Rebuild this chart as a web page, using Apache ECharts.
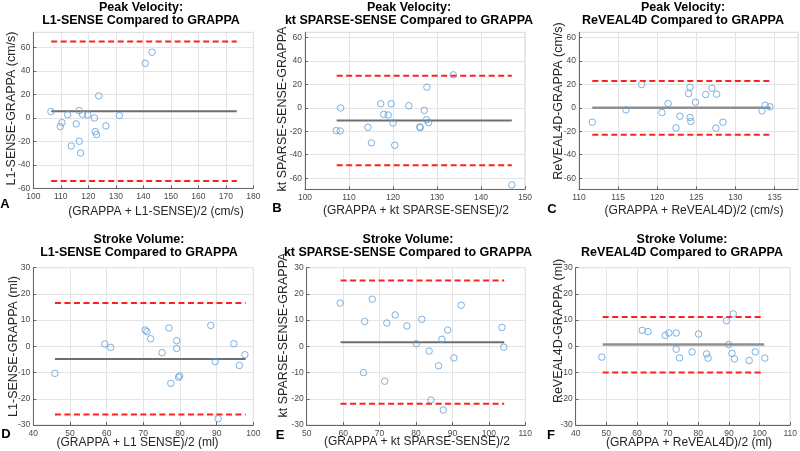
<!DOCTYPE html>
<html>
<head>
<meta charset="utf-8">
<script src="https://cdn.jsdelivr.net/npm/echarts@6/dist/echarts.min.js"></script>
<style>html,body{margin:0;padding:0;background:#fff}#c{width:800px;height:451px}</style>
</head>
<body>
<div id="c"></div>
<script>
// ---------- DATA ----------
// A: Peak velocity, L1-SENSE vs GRAPPA
const pvL1X = [106.4, 140.7, 143.2, 123.8, 116.7, 117.9, 119.8, 112.5, 122.2, 131.3, 110.4, 109.8, 115.6, 126.4, 122.5, 123.0, 116.7, 113.8, 117.2];
const pvL1Y = [5.4, 46.6, 56.0, 18.8, 6.3, 3.1, 2.6, 2.8, 0.0, 2.0, -4.0, -7.4, -5.1, -6.8, -11.7, -14.2, -19.9, -23.9, -29.9];
// B: Peak velocity, kt SPARSE-SENSE vs GRAPPA
const pvKtX = [133.7, 127.7, 108.1, 117.2, 119.6, 123.6, 127.1, 117.9, 118.9, 120.0, 127.6, 128.1, 114.3, 126.1, 126.2, 107.1, 108.0, 115.1, 120.4, 147.0];
const pvKtY = [28.2, 17.7, -0.1, 3.5, 3.5, 1.8, -2.1, -5.5, -6.1, -12.9, -10.1, -12.6, -16.6, -16.3, -16.9, -19.4, -19.7, -29.9, -31.9, -65.7];
// C: Peak velocity, ReVEAL4D vs GRAPPA
const pvRvX = [111.7, 116.0, 118.0, 121.4, 120.6, 122.9, 122.4, 124.0, 124.2, 124.2, 124.3, 124.9, 126.2, 127.0, 127.6, 127.5, 128.4, 133.4, 133.8, 134.4];
const pvRvY = [-12.2, -1.7, 19.9, 3.7, -4.0, -7.1, -17.1, 12.2, 17.6, -8.2, -11.6, 4.8, 11.4, 16.8, 11.7, -17.3, -12.2, -2.6, 2.3, 0.9];
// D: Stroke volume, L1-SENSE vs GRAPPA
const svL1X = [45.9, 59.5, 61.1, 70.5, 71.0, 72.0, 75.1, 77.0, 77.5, 79.1, 79.1, 79.6, 79.9, 88.4, 89.6, 90.4, 94.7, 96.2, 97.7];
const svL1Y = [-10.3, 0.9, -0.4, 6.2, 5.6, 2.9, -2.4, 7.0, -14.1, 2.2, -0.8, -11.8, -11.3, 8.0, -5.8, -27.6, 1.0, -7.3, -3.2];
// E: Stroke volume, kt SPARSE-SENSE vs GRAPPA
const svKtX = [59.2, 68.0, 65.9, 72.0, 74.3, 77.5, 81.6, 80.1, 83.6, 87.1, 88.7, 92.4, 86.2, 90.4, 65.6, 71.4, 84.1, 87.5, 103.6, 104.1];
const svKtY = [16.5, 18.0, 9.5, 8.9, 12.0, 7.8, 10.3, 1.0, -1.8, 2.7, 6.2, 15.7, -7.4, -4.4, -10.0, -13.3, -20.5, -24.3, 7.2, -0.3];
// F: Stroke volume, ReVEAL4D vs GRAPPA
const svRvX = [48.5, 61.7, 63.6, 69.2, 70.4, 72.8, 72.8, 73.9, 78.0, 80.1, 82.7, 83.2, 89.2, 89.9, 91.4, 91.0, 91.8, 96.6, 98.6, 101.7];
const svRvY = [-4.1, 6.1, 5.6, 4.2, 5.1, 5.1, -1.1, -4.4, -2.1, 4.7, -2.9, -4.5, 9.8, 0.7, 12.4, -2.7, -4.8, -5.4, -2.1, -4.5];

// Bland-Altman statistics per panel (A..F)
const meanDiff = [5.6, -10.7, 0.2, -4.8, 1.6, 0.7];
const upperLoA = [65.1, 27.4, 23.0, 16.5, 25.1, 11.2];
const lowerLoA = [-53.8, -48.9, -23.0, -26.0, -21.9, -10.0];
const lineFrom = [106.5, 107.2, 111.7, 45.9, 59.3, 48.8];
const lineTo   = [174.0, 147.0, 134.5, 97.9, 104.2, 101.5];

// Axis ranges and tick labels
const xRanges = [[100, 180], [100, 150], [110, 138], [40, 100], [50, 110], [40, 110]];
const yRanges = [[-60, 73], [-69.5, 64.5], [-69.5, 64.5], [-30, 30], [-30, 30], [-30, 30]];
const xTicksA = [100, 110, 120, 130, 140, 150, 160, 170, 180];
const xTicksB = [100, 110, 120, 130, 140, 150];
const xTicksC = [110, 115, 120, 125, 130, 135];
const xTicksD = [40, 50, 60, 70, 80, 90, 100];
const xTicksE = [50, 60, 70, 80, 90, 100, 110];
const xTicksF = [40, 50, 60, 70, 80, 90, 100, 110];
const yTicksPV = [-60, -40, -20, 0, 20, 40, 60];
const yTicksSV = [-30, -20, -10, 0, 10, 20, 30];

// Texts
const titles = [
  'Peak Velocity:\nL1-SENSE Compared to GRAPPA',
  'Peak Velocity:\nkt SPARSE-SENSE Compared to GRAPPA',
  'Peak Velocity:\nReVEAL4D Compared to GRAPPA',
  'Stroke Volume:\nL1-SENSE Compared to GRAPPA',
  'Stroke Volume:\nkt SPARSE-SENSE Compared to GRAPPA',
  'Stroke Volume:\nReVEAL4D Compared to GRAPPA'
];
const xNames = ['(GRAPPA + L1-SENSE)/2 (cm/s)', '(GRAPPA + kt SPARSE-SENSE)/2', '(GRAPPA + ReVEAL4D)/2 (cm/s)',
                '(GRAPPA + L1 SENSE)/2 (ml)', '(GRAPPA + kt SPARSE-SENSE)/2', '(GRAPPA + ReVEAL4D)/2 (ml)'];
const yNames = ['L1-SENSE-GRAPPA (cm/s)', 'kt SPARSE-SENSE-GRAPPA', 'ReVEAL4D-GRAPPA (cm/s)',
                'L1-SENSE-GRAPPA (ml)', 'kt SPARSE-SENSE-GRAPPA', 'ReVEAL4D-GRAPPA (ml)'];
const letters = ['A', 'B', 'C', 'D', 'E', 'F'];

// ---------- LAYOUT / STYLE ----------
const grids = [
  {left: 33.3, top: 32.3, width: 220, height: 156},
  {left: 305, top: 32.3, width: 220, height: 157},
  {left: 579, top: 32.3, width: 219, height: 157},
  {left: 33.3, top: 267.7, width: 220, height: 157.3},
  {left: 306.7, top: 267.7, width: 218.6, height: 157.3},
  {left: 575.7, top: 267.7, width: 217.6, height: 157.3}
];
const titlePos = [[141, 1], [409, 1], [683, 1], [139, 233.5], [408, 233.5], [682, 233.5]];
const xNamePos = [[156, 211.5], [416, 210.5], [694, 211], [137.5, 442.5], [417, 442], [689, 442.5]];
const yNamePos = [[12, 108.5], [283, 109], [558.5, 101], [14, 346.5], [283.5, 335], [558.5, 331]];
const letterPos = [[5, 204], [277, 208], [552, 209], [6, 434], [280, 435], [551, 435]];
const meanColors = ['#6e6e6e', '#6e6e6e', '#8f8f8f', '#6e6e6e', '#6e6e6e', '#8f8f8f'];
const meanWidths = [2, 2, 2.5, 2, 2, 2.5];

const FONT = '"Liberation Sans", Arial, Helvetica, sans-serif';
const panelX = [pvL1X, pvKtX, pvRvX, svL1X, svKtX, svRvX];
const panelY = [pvL1Y, pvKtY, pvRvY, svL1Y, svKtY, svRvY];
const xTicks = [xTicksA, xTicksB, xTicksC, xTicksD, xTicksE, xTicksF];
const yTicks = [yTicksPV, yTicksPV, yTicksPV, yTicksSV, yTicksSV, yTicksSV];

const option = {
  animation: false,
  backgroundColor: '#ffffff',
  grid: [], xAxis: [], yAxis: [], series: [], graphic: []
};

function axisCommon(ticks, isX) {
  return {
    axisLine: {show: true, onZero: false, lineStyle: {color: '#666', width: 1}},
    axisTick: {show: true, inside: true, length: 3, lineStyle: {color: '#666'}, customValues: ticks},
    axisLabel: {show: true, customValues: ticks, color: '#4a4a4a', fontSize: 8.5, fontFamily: FONT,
                margin: isX ? 4 : 3, hideOverlap: false, showMinLabel: true, showMaxLabel: true},
    splitLine: {show: true, lineStyle: {color: '#e4e4e4', width: 1}}
  };
}

for (let i = 0; i < 6; i++) {
  const g = grids[i];
  option.grid.push({left: g.left, top: g.top, width: g.width, height: g.height,
                    show: true, borderColor: '#d6d6d6', borderWidth: 1, containLabel: false});
  option.xAxis.push(Object.assign({type: 'value', gridIndex: i, min: xRanges[i][0], max: xRanges[i][1]},
                                  axisCommon(xTicks[i], true)));
  option.yAxis.push(Object.assign({type: 'value', gridIndex: i, min: yRanges[i][0], max: yRanges[i][1]},
                                  axisCommon(yTicks[i], false)));
  // mean line
  option.series.push({type: 'line', xAxisIndex: i, yAxisIndex: i, showSymbol: false, silent: true, z: 2,
    data: [[lineFrom[i], meanDiff[i]], [lineTo[i], meanDiff[i]]],
    lineStyle: {color: meanColors[i], width: meanWidths[i]}});
  // limits of agreement
  [upperLoA[i], lowerLoA[i]].forEach(v => {
    option.series.push({type: 'line', xAxisIndex: i, yAxisIndex: i, showSymbol: false, silent: true, z: 2,
      data: [[lineFrom[i], v], [lineTo[i], v]],
      lineStyle: {color: '#ff1f1f', width: 2, type: [6, 3.5]}});
  });
  // scatter points
  option.series.push({type: 'scatter', xAxisIndex: i, yAxisIndex: i, z: 3, symbol: 'circle', symbolSize: 6.5,
    data: panelX[i].map((x, k) => [x, panelY[i][k]]),
    itemStyle: {color: 'rgba(0,0,0,0)', borderColor: '#5b9fd9', borderWidth: 1}});

  // texts
  option.graphic.push({type: 'text', x: titlePos[i][0], y: titlePos[i][1], z: 10,
    style: {text: titles[i], font: 'bold 12.5px ' + FONT, fill: '#000', lineHeight: 13,
            align: 'center', textAlign: 'center', verticalAlign: 'top', textVerticalAlign: 'top'}});
  option.graphic.push({type: 'text', x: xNamePos[i][0], y: xNamePos[i][1], z: 10,
    style: {text: xNames[i], font: '12px ' + FONT, fill: '#262626',
            align: 'center', textAlign: 'center', verticalAlign: 'middle', textVerticalAlign: 'middle'}});
  option.graphic.push({type: 'text', x: yNamePos[i][0], y: yNamePos[i][1], rotation: Math.PI / 2, z: 10,
    style: {text: yNames[i], font: '12.5px ' + FONT, fill: '#262626',
            align: 'center', textAlign: 'center', verticalAlign: 'middle', textVerticalAlign: 'middle'}});
  option.graphic.push({type: 'text', x: letterPos[i][0], y: letterPos[i][1], z: 10,
    style: {text: letters[i], font: 'bold 13px ' + FONT, fill: '#000',
            align: 'center', textAlign: 'center', verticalAlign: 'middle', textVerticalAlign: 'middle'}});
}

const chart = echarts.init(document.getElementById('c'), null, {renderer: 'canvas'});
chart.setOption(option);
</script>
</body>
</html>
